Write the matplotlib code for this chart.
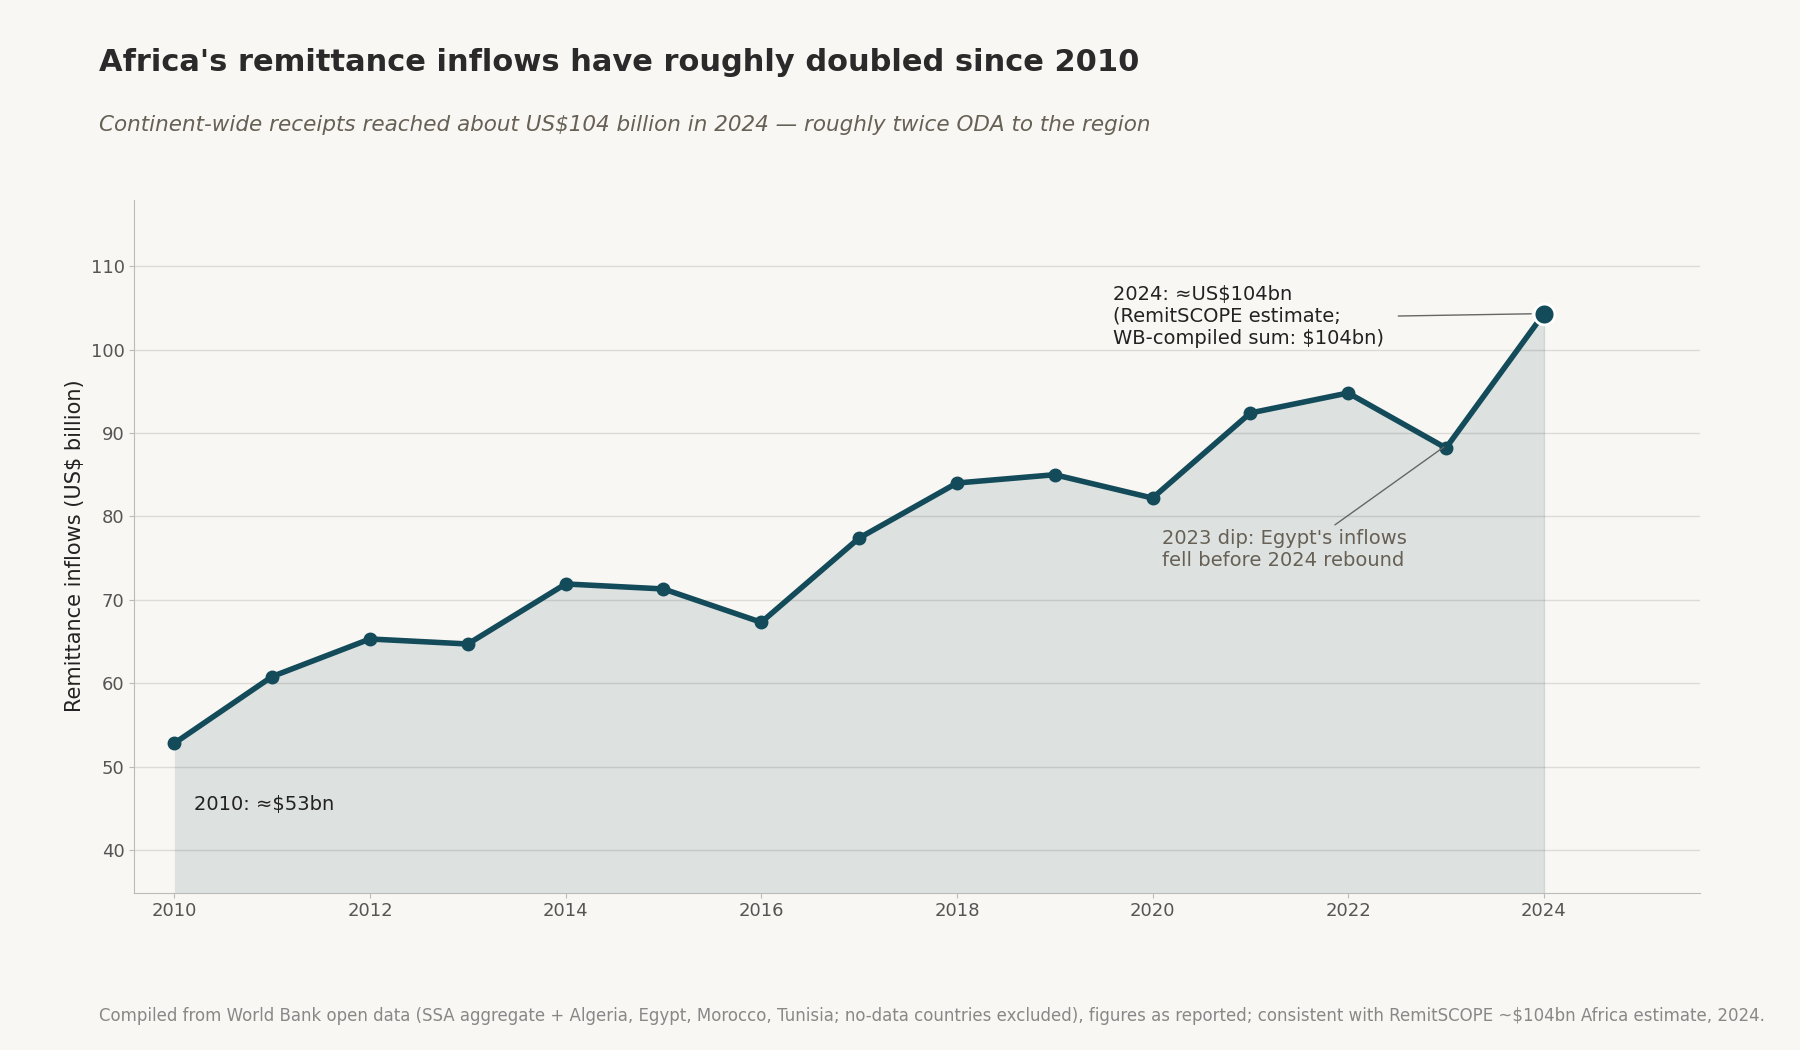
import matplotlib
matplotlib.use("Agg")
import matplotlib.pyplot as plt

years = [2010, 2011, 2012, 2013, 2014, 2015, 2016, 2017, 2018, 2019, 2020, 2021, 2022, 2023, 2024]
inflows = [52.8, 60.8, 65.3, 64.7, 71.9, 71.3, 67.3, 77.4, 84.0, 85.0, 82.2, 92.4, 94.8, 88.2, 104.3]

BG = "#f9f7f3"
LINE = "#134b5a"

fig = plt.figure(figsize=(18, 10.5), dpi=100, facecolor=BG)
ax = fig.add_axes([0.0746, 0.150, 0.870, 0.660], facecolor=BG)

ax.fill_between(years, inflows, 30, color="#134b5a", alpha=0.12, linewidth=0)
ax.plot([years[-1], years[-1]], [30, inflows[-1]], color="#134b5a", alpha=0.15, lw=1)
ax.plot(years, inflows, color=LINE, lw=4, marker="o", ms=9, zorder=3)
ax.plot(years[-1], inflows[-1], "o", color=LINE, ms=15, mec="white", mew=2, zorder=4)

ax.set_xlim(2009.59, 2025.6)
ax.set_ylim(34.9, 118)
ax.set_xticks(range(2010, 2025, 2))
ax.set_yticks(range(40, 111, 10))
ax.grid(axis="y", color="#dedbd6", lw=1)
ax.set_axisbelow(True)
for s in ["top", "right"]:
    ax.spines[s].set_visible(False)
for s in ["left", "bottom"]:
    ax.spines[s].set_color("#bbbbbb")
ax.tick_params(colors="#bbbbbb", labelcolor="#555555", labelsize=13)
ax.set_ylabel("Remittance inflows (US$ billion)", fontsize=15, color="#222222")

ax.text(2010.2, 45.5, "2010: \u2248$53bn", fontsize=14, color="#222222", va="center")
ax.annotate("2024: \u2248US$104bn\n(RemitSCOPE estimate;\nWB-compiled sum: $104bn)",
            xy=(2023.9, 104.3), xytext=(2019.6, 104.0), fontsize=14, color="#222222",
            va="center", arrowprops=dict(arrowstyle="-", color="#666666", lw=1,
                                         relpos=(1.0, 0.5), shrinkA=8))
ax.annotate("2023 dip: Egypt's inflows\nfell before 2024 rebound",
            xy=(2023, 88.5), xytext=(2020.1, 76.0), fontsize=14, color="#666055",
            va="center", arrowprops=dict(arrowstyle="-", color="#666666", lw=1,
                                         relpos=(0.68, 1.0)))

fig.text(0.055, 0.932, "Africa's remittance inflows have roughly doubled since 2010",
         fontsize=22, fontweight="bold", color="#2a2a2a")
fig.text(0.055, 0.875, "Continent-wide receipts reached about US$104 billion in 2024 \u2014 roughly twice ODA to the region",
         fontsize=15.5, style="italic", color="#666055")
fig.text(0.055, 0.028, "Compiled from World Bank open data (SSA aggregate + Algeria, Egypt, Morocco, Tunisia; no-data countries excluded), figures as reported; consistent with RemitSCOPE ~$104bn Africa estimate, 2024.",
         fontsize=12, color="#888888")

fig.savefig("out.png", dpi=100, facecolor=BG)
